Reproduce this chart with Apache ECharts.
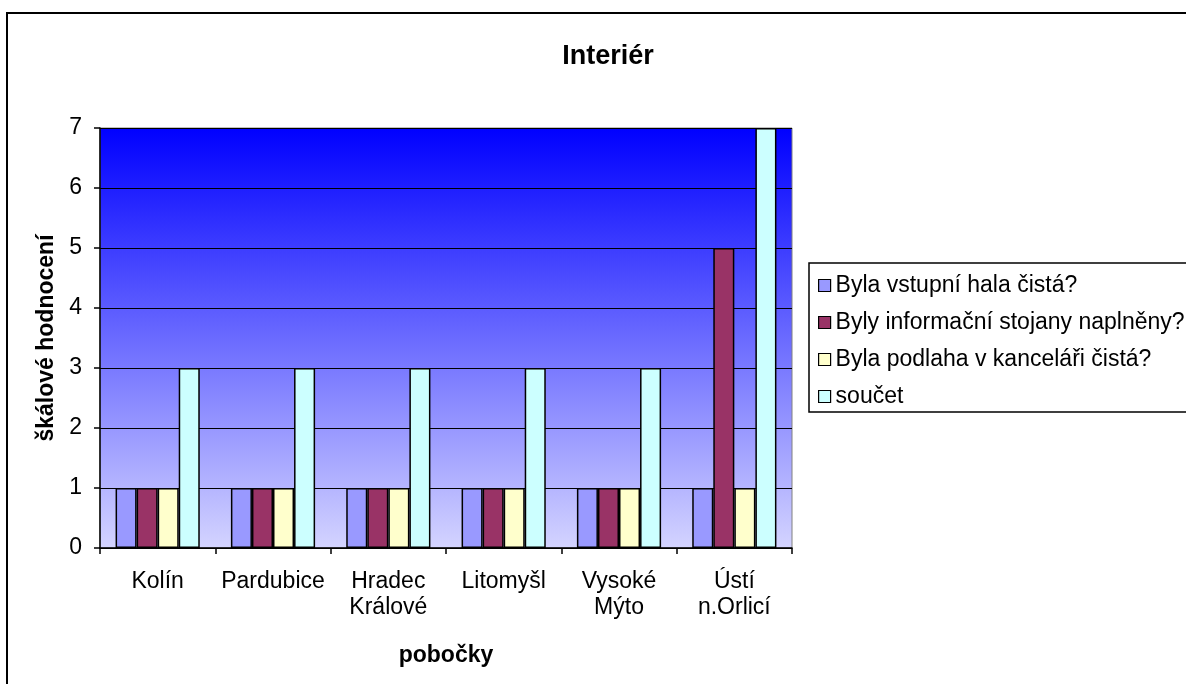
<!DOCTYPE html>
<html>
<head>
<meta charset="utf-8">
<script src="https://cdn.jsdelivr.net/npm/echarts@6/dist/echarts.min.js"></script>
<style>
  html, body { margin: 0; padding: 0; background: #fff; }
  #chart { width: 1186px; height: 684px; }
</style>
</head>
<body>
<div id="chart"></div>
<script>
// Branch names (axis categories)
const branches = ['Kolín', 'Pardubice', 'Hradec\nKrálové', 'Litomyšl', 'Vysoké\nMýto', 'Ústí\nn.Orlicí'];

// Question series names
const seriesNames = [
  'Byla vstupní hala čistá?',
  'Byly informační stojany naplněny?',
  'Byla podlaha v kanceláři čistá?',
  'součet'
];

// Scores per branch
const hallClean = [1, 1, 1, 1, 1, 1];
const standsFilled = [1, 1, 1, 1, 1, 5];
const floorClean = [1, 1, 1, 1, 1, 1];
const total = [3, 3, 3, 3, 3, 7];

const seriesValues = [hallClean, standsFilled, floorClean, total];
const seriesColors = ['#9999ff', '#993366', '#ffffcc', '#ccffff'];

const FONT = 'Liberation Sans, Arial, sans-serif';

const chart = echarts.init(document.getElementById('chart'), null, { renderer: 'canvas' });

chart.setOption({
  animation: false,
  backgroundColor: '#ffffff',
  textStyle: { fontFamily: FONT, color: '#000' },
  title: {
    text: 'Interiér',
    left: 603,
    top: 38,
    textAlign: 'center',
    textStyle: { fontFamily: FONT, fontSize: 27, fontWeight: 'bold', color: '#000' }
  },
  graphic: [
    {
      type: 'rect',
      shape: { x: 7, y: 13, width: 1200, height: 700 },
      style: { fill: 'none', stroke: '#000', lineWidth: 2 },
      z: 100
    },
    {
      type: 'rect',
      shape: { x: 809, y: 263, width: 400, height: 149 },
      style: { fill: '#fff', stroke: '#000', lineWidth: 1.5 },
      z: 0
    }
  ],
  legend: {
    orient: 'vertical',
    left: 818,
    top: 274,
    padding: 0,
    itemWidth: 12,
    itemHeight: 12,
    itemGap: 14,
    icon: 'rect',
    z: 10,
    textStyle: { fontFamily: FONT, fontSize: 23, color: '#000', lineHeight: 22 },
    itemStyle: { borderColor: '#000', borderWidth: 1.2 },
    data: seriesNames
  },
  grid: {
    left: 100,
    top: 128,
    width: 692,
    height: 420,
    show: true,
    borderColor: '#808080',
    borderWidth: 1,
    backgroundColor: {
      type: 'linear', x: 0, y: 0, x2: 0, y2: 1,
      colorStops: [
        { offset: 0, color: '#0000ff' },
        { offset: 1, color: '#d4d4ff' }
      ]
    }
  },
  xAxis: {
    type: 'category',
    data: branches,
    name: 'pobočky',
    nameLocation: 'middle',
    nameGap: 96,
    nameTextStyle: { fontFamily: FONT, fontSize: 23, fontWeight: 'bold', color: '#000' },
    axisLine: { lineStyle: { color: '#000', width: 1.5 } },
    axisTick: { show: true, length: 6, lineStyle: { color: '#000', width: 1.5 } },
    axisLabel: { interval: 0, fontFamily: FONT, fontSize: 23, lineHeight: 26, color: '#000', margin: 21 }
  },
  yAxis: {
    type: 'value',
    min: 0,
    max: 7,
    interval: 1,
    name: 'škálové hodnocení',
    nameLocation: 'middle',
    nameGap: 41,
    nameRotate: 90,
    nameTextStyle: { fontFamily: FONT, fontSize: 23, fontWeight: 'bold', color: '#000' },
    axisLine: { show: true, lineStyle: { color: '#000', width: 1.5 } },
    axisTick: { show: true, length: 6, lineStyle: { color: '#000', width: 1.5 } },
    axisLabel: { fontFamily: FONT, fontSize: 23, color: '#000', margin: 18 },
    splitLine: { show: true, lineStyle: { color: '#000', width: 1.2 } }
  },
  series: seriesNames.map((name, i) => ({
    name: name,
    type: 'bar',
    data: seriesValues[i],
    barGap: '0%',
    barCategoryGap: '27%',
    itemStyle: { color: seriesColors[i], borderColor: '#000', borderWidth: 1.5 }
  }))
});
</script>
</body>
</html>
